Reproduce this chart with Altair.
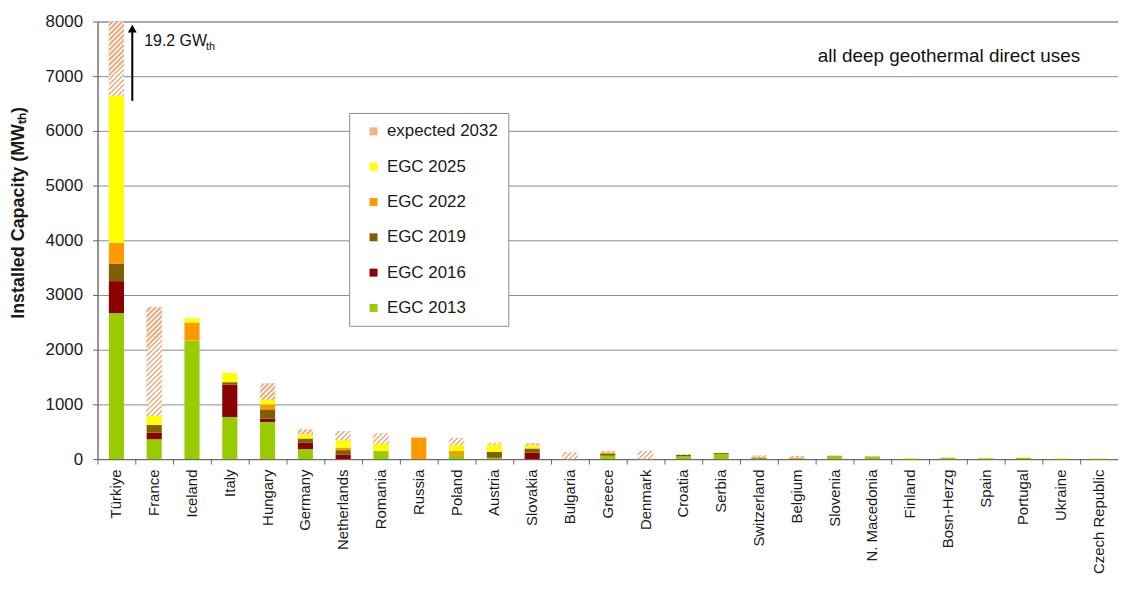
import altair as alt
import pandas as pd

# ---------------- data ----------------
countries = ["Türkiye", "France", "Iceland", "Italy", "Hungary", "Germany", "Netherlands",
             "Romania", "Russia", "Poland", "Austria", "Slovakia", "Bulgaria", "Greece",
             "Denmark", "Croatia", "Serbia", "Switzerland", "Belgium", "Slovenia",
             "N. Macedonia", "Finland", "Bosn-Herzg", "Spain", "Portugal", "Ukraine",
             "Czech Republic"]

# increments of installed capacity (MWth) reported at each congress
egc2013 = [2667, 363, 2170, 770, 679, 182, 0, 145, 0, 73, 24, 0, 0, 60, 0, 50, 90, 10, 0, 55, 50, 0, 25, 15, 20, 0, 0]
egc2016 = [587, 122, 0, 594, 60, 115, 85, 0, 0, 0, 0, 121, 0, 0, 0, 0, 0, 0, 0, 0, 0, 0, 0, 0, 0, 0, 0]
egc2019 = [321, 139, 0, 42, 170, 79, 79, 0, 0, 0, 109, 73, 0, 35, 0, 25, 20, 15, 10, 5, 0, 0, 0, 0, 0, 0, 0]
egc2022 = [382, 0, 327, 0, 91, 0, 42, 10, 394, 79, 0, 0, 0, 15, 0, 0, 0, 10, 10, 0, 0, 0, 0, 0, 0, 0, 0]
egc2025 = [2691, 164, 79, 170, 91, 79, 139, 130, 0, 103, 134, 61, 0, 10, 0, 0, 0, 10, 10, 0, 0, 20, 5, 10, 10, 15, 15]
exp2032 = [12552, 1982, 0, 0, 291, 85, 164, 182, 0, 133, 30, 30, 121, 30, 150, 20, 0, 20, 25, 0, 0, 0, 0, 0, 0, 0, 0]

series_names = ["EGC 2013", "EGC 2016", "EGC 2019", "EGC 2022", "EGC 2025", "expected 2032"]
series_values = [egc2013, egc2016, egc2019, egc2022, egc2025, exp2032]

legend_order = ["expected 2032", "EGC 2025", "EGC 2022", "EGC 2019", "EGC 2016", "EGC 2013"]
legend_colors = ["#F4B183", "#FFFF00", "#FF9900", "#7F6000", "#8B0000", "#99CC00"]

Y_MAX = 8000
PLOT_W, PLOT_H = 1026, 440
BAR_FRAC = 0.4

# ---------------- build stacked segments ----------------
rows = []
for ci, c in enumerate(countries):
    base = 0
    for s, vals in zip(series_names, series_values):
        v = vals[ci]
        if v > 0:
            rows.append({"country": c, "series": s, "y0": base, "y1": base + v})
        base += v
df = pd.DataFrame(rows)

x_scale = alt.Scale(domain=countries, paddingInner=0, paddingOuter=0)
y_scale = alt.Scale(domain=[0, Y_MAX], clamp=True, nice=False)

FONT = "Liberation Sans"

bars = alt.Chart(df).mark_bar(width=alt.RelativeBandSize(BAR_FRAC)).encode(
    x=alt.X("country:N", scale=x_scale, sort=None,
            axis=alt.Axis(title=None, labelAngle=270, labelAlign="right",
                          labelBaseline="middle", labelFontSize=15, labelPadding=5,
                          labelColor="#1a1a1a", bandPosition=0,
                          tickSize=5, tickColor="#666", domainColor="#666",
                          grid=False)),
    y=alt.Y("y0:Q", scale=y_scale,
            axis=alt.Axis(values=list(range(0, Y_MAX + 1, 1000)), format="d",
                          title="Installed Capacity (MWₜₕ)", titleFontSize=18,
                          titleFontWeight="bold", titleColor="#1a1a1a",
                          titleAngle=270, titleAlign="center", titleBaseline="middle",
                          titleX=-79, titleY=192,
                          labelFontSize=17, labelColor="#1a1a1a", labelPadding=10,
                          tickSize=5, tickColor="#666", domainColor="#666",
                          gridColor="#8c8c8c", gridWidth=1)),
    y2="y1:Q",
    color=alt.Color("series:N",
                    scale=alt.Scale(domain=legend_order, range=legend_colors),
                    legend=alt.Legend(title=None, orient="none", direction="vertical",
                                      legendX=253, legendY=92,
                                      fillColor="white", strokeColor="#8c8c8c",
                                      padding=10, symbolType="square", symbolSize=64,
                                      symbolStrokeWidth=0, symbolOffset=6,
                                      labelOffset=5, labelFontSize=17,
                                      labelColor="#1a1a1a", rowPadding=17.5,
                                      labelExpr="datum.label + '  '")),
)

# ---------------- hatched overlay for "expected 2032" ----------------
STEP = PLOT_W / len(countries)
bar_w = STEP * BAR_FRAC
PERIOD = 5.0  # px along x+y
hatch_layers = []
exp_df = df[df["series"] == "expected 2032"]
for _, r in exp_df.iterrows():
    h = (min(r["y1"], Y_MAX) - r["y0"]) * PLOT_H / Y_MAX
    w = bar_w
    k = (w + h) / (w * w + h * h)
    p = PERIOD / (w + h)
    stops = []
    a = 0.0
    while a < 1.0:
        b = min(a + p * 0.5, 1.0)
        e = min(a + p, 1.0)
        stops += [alt.GradientStop(offset=a, color="#FFFFFF"),
                  alt.GradientStop(offset=b, color="#FFFFFF"),
                  alt.GradientStop(offset=b, color="#F4AE80"),
                  alt.GradientStop(offset=e, color="#F4AE80")]
        a = e
    grad = alt.LinearGradient(gradient="linear", stops=stops,
                              x1=0, y1=0, x2=w * k, y2=h * k)
    layer = alt.Chart(pd.DataFrame([r])).mark_bar(
        width=alt.RelativeBandSize(BAR_FRAC), color=grad
    ).encode(
        x=alt.X("country:N", scale=x_scale, sort=None),
        y=alt.Y("y0:Q", scale=y_scale),
        y2="y1:Q",
    )
    hatch_layers.append(layer)

# ---------------- annotations ----------------
turk_2025_top = sum(v[0] for v in series_values[:5])
arrow_df = pd.DataFrame({"country": ["Türkiye"], "y0": [turk_2025_top - 100], "y1": [7820]})
arrow_line = alt.Chart(arrow_df).mark_rule(color="black", strokeWidth=2).encode(
    x=alt.X("country:N", scale=x_scale, bandPosition=0.92),
    y=alt.Y("y0:Q", scale=y_scale), y2="y1:Q")
arrow_head = alt.Chart(pd.DataFrame({"country": ["Türkiye"], "y": [7870]})).mark_point(
    shape="triangle-up", filled=True, color="black", size=80, opacity=1).encode(
    x=alt.X("country:N", scale=x_scale, bandPosition=0.92),
    y=alt.Y("y:Q", scale=y_scale))

ann_df = pd.DataFrame({"country": ["Türkiye"], "y": [7560]})
gw_text = alt.Chart(ann_df).mark_text(text="19.2 GW", align="left", baseline="alphabetic",
                                      fontSize=16, font=FONT, color="#111", dx=12).encode(
    x=alt.X("country:N", scale=x_scale, bandPosition=0.92), y=alt.Y("y:Q", scale=y_scale))
th_text = alt.Chart(ann_df).mark_text(text="th", align="left", baseline="alphabetic",
                                      fontSize=11, font=FONT, color="#111", dx=74, dy=4).encode(
    x=alt.X("country:N", scale=x_scale, bandPosition=0.92), y=alt.Y("y:Q", scale=y_scale))

note_df = pd.DataFrame({"country": ["Ukraine"], "y": [7250]})
note_text = alt.Chart(note_df).mark_text(text="all deep geothermal direct uses", align="right",
                                         baseline="alphabetic", fontSize=19, font=FONT,
                                         color="#111", dx=3).encode(
    x=alt.X("country:N", scale=x_scale, bandPosition=0.92), y=alt.Y("y:Q", scale=y_scale))

chart = alt.layer(bars, *hatch_layers, arrow_line, arrow_head, gw_text, th_text, note_text).properties(
    width=PLOT_W, height=PLOT_H,
    autosize=alt.AutoSizeParams(type="none"),
    padding={"left": 90, "top": 12, "right": 0, "bottom": 118},
).configure(font=FONT).configure_view(stroke="#8c8c8c")

chart.save("out.html", embed_options={"renderer": "svg", "actions": False})
